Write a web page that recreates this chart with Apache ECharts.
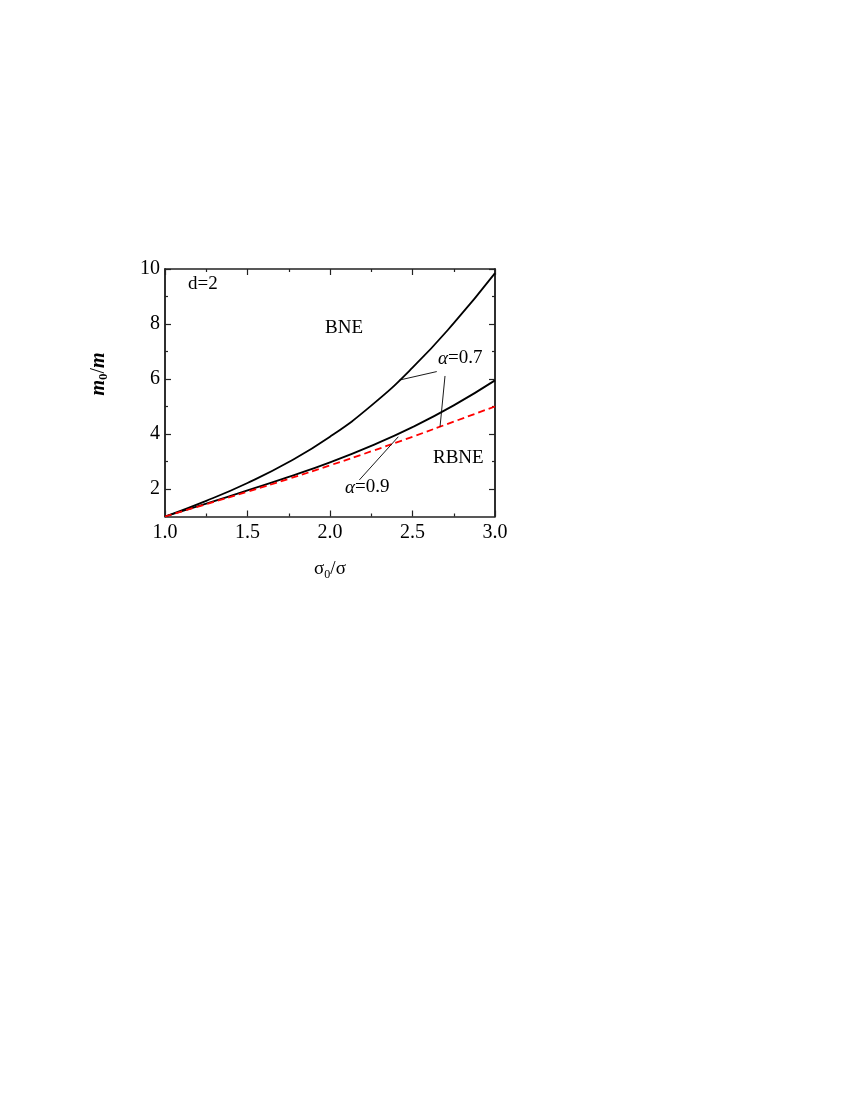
<!DOCTYPE html>
<html>
<head>
<meta charset="utf-8">
<script src="https://cdn.jsdelivr.net/npm/echarts@6/dist/echarts.min.js"></script>
<style>
  html, body { margin: 0; padding: 0; background: #fff; }
  #chart { width: 850px; height: 1100px; }
</style>
</head>
<body>
<div id="chart"></div>
<script>
// x values (sigma_0 / sigma)
const xValues = [1.0, 1.25, 1.5, 1.75, 2.0, 2.25, 2.5, 2.75, 3.0];
// boundary curves m_0/m
const alpha07 = [1.0, 1.57, 2.22, 2.98, 3.9, 5.03, 6.41, 8.03, 9.85];
const alpha09 = [1.0, 1.47, 1.95, 2.44, 2.97, 3.57, 4.25, 5.04, 5.95];
const redDashed = [1.0, 1.45, 1.9, 2.37, 2.86, 3.37, 3.9, 4.45, 5.0];

// tick labels
const xTicks = [1.0, 1.5, 2.0, 2.5, 3.0];
const yMajor = [2, 4, 6, 8, 10];
const yMinor = [3, 5, 7, 9];

// annotation leader lines (data coords)
const leader07a = [[2.42, 5.96], [2.647, 6.27]];
const leader07b = [[2.697, 6.11], [2.667, 4.27]];
const leader09 = [[2.178, 2.33], [2.414, 3.9]];

const FONT = "'Liberation Serif', 'Times New Roman', serif";
const AXIS_COLOR = "#222";

const toPairs = (ys) => xValues.map((x, i) => [x, ys[i]]);

function yAxisDef(position, values, len, showLabel) {
  return {
    type: "value",
    position: position,
    min: 1,
    max: 10,
    splitLine: { show: false },
    axisLine: { show: true, lineStyle: { color: AXIS_COLOR, width: 1.5 } },
    axisTick: {
      show: true,
      inside: true,
      length: len,
      customValues: values,
      lineStyle: { color: AXIS_COLOR, width: 1.2 },
    },
    axisLabel: {
      show: showLabel,
      customValues: values,
      margin: 5,
      color: "#000",
      fontFamily: FONT,
      fontSize: 20,
    },
  };
}

function xAxisDef(position, showLabel) {
  return {
    type: "value",
    position: position,
    min: 1,
    max: 3,
    interval: 0.5,
    splitLine: { show: false },
    axisLine: { show: true, onZero: false, lineStyle: { color: AXIS_COLOR, width: 1.5 } },
    axisTick: { show: true, inside: true, length: 6, lineStyle: { color: AXIS_COLOR, width: 1.2 } },
    minorTick: { show: true, splitNumber: 2, length: 3, lineStyle: { color: AXIS_COLOR, width: 1.2 } },
    axisLabel: {
      show: showLabel,
      customValues: showLabel ? xTicks : undefined,
      margin: 6,
      color: "#000",
      fontFamily: FONT,
      fontSize: 20,
      formatter: (v) => v.toFixed(1),
    },
  };
}

const chart = echarts.init(document.getElementById("chart"));

const xMain = xAxisDef("bottom", true);
xMain.name = "{s|σ}{sub|0}{s|/σ}";
xMain.nameLocation = "middle";
xMain.nameGap = 42;
xMain.nameTextStyle = {
  fontFamily: FONT,
  color: "#000",
  rich: {
    s: { fontFamily: FONT, fontSize: 19, color: "#000" },
    sub: { fontFamily: FONT, fontSize: 12, color: "#000", padding: [10, 0, 0, 0] },
  },
};

const lineSeries = (name, ys, color, dashed) => ({
  name: name,
  type: "line",
  data: toPairs(ys),
  smooth: true,
  showSymbol: false,
  silent: true,
  lineStyle: { color: color, width: 1.8, type: dashed ? [7, 4] : "solid" },
  z: 3,
});

const leaderSeries = (pts) => ({
  type: "line",
  data: pts,
  showSymbol: false,
  silent: true,
  lineStyle: { color: "#000", width: 0.9 },
  z: 4,
});

const textStyle = { fontFamily: FONT, fontSize: 19, fill: "#000" };
const alphaRich = {
  a: { fontFamily: FONT, fontSize: 19, fontStyle: "italic", fill: "#000" },
  t: { fontFamily: FONT, fontSize: 19, fill: "#000" },
};

chart.setOption({
  animation: false,
  backgroundColor: "#fff",
  grid: { left: 165, right: 355, top: 269, bottom: 583.5, containLabel: false },
  xAxis: [xMain, xAxisDef("top", false)],
  yAxis: [
    yAxisDef("left", yMajor, 6, true),
    yAxisDef("left", yMinor, 3, false),
    yAxisDef("right", yMajor, 6, false),
    yAxisDef("right", yMinor, 3, false),
  ],
  series: [
    lineSeries("α=0.7", alpha07, "#000", false),
    lineSeries("α=0.9", alpha09, "#000", false),
    lineSeries("limit", redDashed, "#ff0000", true),
    leaderSeries(leader07a),
    leaderSeries(leader07b),
    leaderSeries(leader09),
  ],
  graphic: [
    {
      type: "text", x: 99, y: 374, rotation: Math.PI / 2,
      style: {
        text: "{m|m}{sub|0}{s|/}{m|m}",
        align: "center",
        verticalAlign: "middle",
        rich: {
          m: { fontFamily: FONT, fontSize: 20, fontStyle: "italic", fontWeight: "bold", fill: "#000" },
          s: { fontFamily: FONT, fontSize: 20, fill: "#000" },
          sub: { fontFamily: FONT, fontSize: 13, fontWeight: "bold", fill: "#000", padding: [10, 0, 0, 0] },
        },
      },
    },
    { type: "text", left: 188, top: 275, style: Object.assign({ text: "d=2" }, textStyle) },
    { type: "text", left: 325, top: 319, style: Object.assign({ text: "BNE" }, textStyle) },
    { type: "text", left: 433, top: 449, style: Object.assign({ text: "RBNE" }, textStyle) },
    { type: "text", left: 438, top: 349, style: { text: "{a|α}{t|=0.7}", rich: alphaRich } },
    { type: "text", left: 345, top: 478, style: { text: "{a|α}{t|=0.9}", rich: alphaRich } },
  ],
});
</script>
</body>
</html>
